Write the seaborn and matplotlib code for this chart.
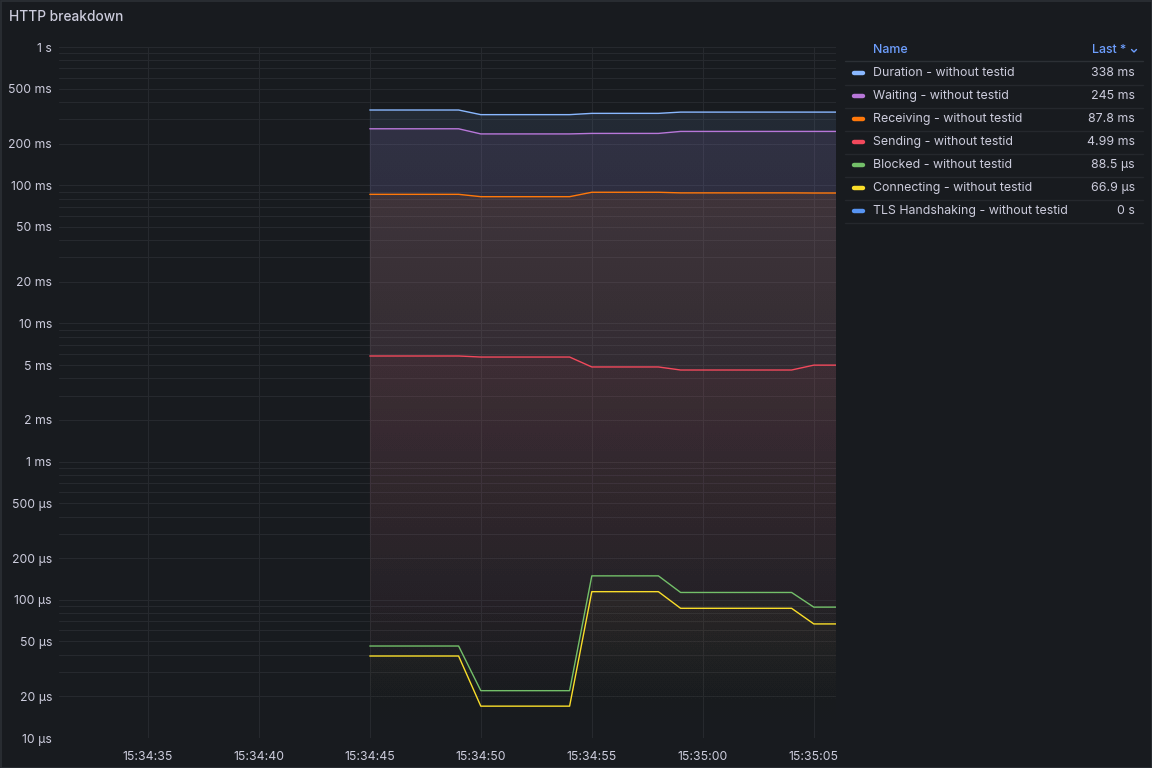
import numpy as np
import pandas as pd
import matplotlib
matplotlib.use("Agg")
import matplotlib.pyplot as plt
import seaborn as sns
import matplotlib.dates as mdates
from matplotlib.colors import to_rgb
from matplotlib.ticker import FixedLocator, FuncFormatter, NullFormatter
from matplotlib.lines import Line2D
from matplotlib.patches import Rectangle

# sample times (change points of the series)
times = ["15:34:45", "15:34:49", "15:34:50", "15:34:54", "15:34:55",
         "15:34:58", "15:34:59", "15:35:04", "15:35:05", "15:35:06"]

# values in seconds
duration = [0.350, 0.350, 0.324, 0.324, 0.331, 0.331, 0.338, 0.338, 0.338, 0.338]
waiting = [0.256, 0.256, 0.235, 0.235, 0.237, 0.237, 0.245, 0.245, 0.245, 0.245]
receiving = [0.0859, 0.0859, 0.0826, 0.0826, 0.0889, 0.0889, 0.0880, 0.0880, 0.0878, 0.0878]
sending = [0.00581, 0.00581, 0.00571, 0.00571, 0.00484, 0.00484, 0.00460, 0.00460, 0.00499, 0.00499]
blocked = [46.3e-6, 46.3e-6, 22.0e-6, 22.0e-6, 149e-6, 149e-6, 113e-6, 113e-6, 88.5e-6, 88.5e-6]
connecting = [39.2e-6, 39.2e-6, 17.0e-6, 17.0e-6, 114.5e-6, 114.5e-6, 86.8e-6, 86.8e-6, 66.9e-6, 66.9e-6]
tls = [0, 0, 0, 0, 0, 0, 0, 0, 0, 0]

names = ["Duration - without testid", "Waiting - without testid", "Receiving - without testid",
         "Sending - without testid", "Blocked - without testid", "Connecting - without testid",
         "TLS Handshaking - without testid"]
series = [duration, waiting, receiving, sending, blocked, connecting, tls]
colors = ["#8ab8ff", "#b877d9", "#ff780a", "#f2495c", "#73bf69", "#fade2a", "#5794f2"]

BG = "#181b1f"
GRID = "#26292e"
TEXT = "#ccccdc"
BLUE = "#6e9fff"


def fmt_dur(v):
    if v == 0:
        return "0 s"
    if v >= 1:
        return f"{v:.3g} s"
    if v >= 1e-3:
        return f"{v * 1e3:.3g} ms"
    return f"{v * 1e6:.3g} µs"


sns.set_theme(style="dark")
plt.rcParams["font.family"] = ["Inter", "DejaVu Sans"]

fig = plt.figure(figsize=(11.52, 7.68), dpi=100, facecolor=BG)
ax = fig.add_axes([59 / 1152, 1 - 738 / 768, (836 - 59) / 1152, (738 - 47) / 768])
ax.set_facecolor(BG)

day = "2024-01-01 "
t = pd.to_datetime([day + s for s in times])
df = pd.DataFrame({"time": np.tile(t, len(names)),
                   "value": np.concatenate(series),
                   "name": np.repeat(names, len(times))})
df = df[df["value"] > 0]

ax.set_yscale("log")
ymin, ymax = 1e-5, 1.0

# gradient fills under each series (opaque at top of the plot, clear at bottom),
# ordered dither so the 8-bit alpha steps do not show as bands
H, W = 691, 777
bayer = np.array([[0, 8, 2, 10], [12, 4, 14, 6], [3, 11, 1, 9], [15, 7, 13, 5]]) / 16 - 0.47
dither = np.tile(bayer, (H // 4 + 1, W // 4 + 1))[:H, :W] / 255
alpha = np.clip(np.linspace(0, 1, H)[:, None] * 0.11 + dither, 0, 1)
for name, c in zip(names, colors):
    d = df[df["name"] == name]
    if d.empty:
        continue
    poly = ax.fill_between(d["time"], d["value"], ymin, color="none", lw=0)
    rgba = np.zeros((H, W, 4))
    rgba[..., :3] = to_rgb(c)
    rgba[..., 3] = alpha
    im = ax.imshow(rgba, extent=[0, 1, 0, 1], transform=ax.transAxes,
                   origin="lower", aspect="auto", zorder=1, interpolation="nearest")
    im.set_clip_path(poly.get_paths()[0], ax.transData)

sns.lineplot(data=df, x="time", y="value", hue="name", hue_order=names,
             palette=dict(zip(names, colors)), linewidth=1.0, ax=ax,
             legend=False, zorder=3, estimator=None)

ax.set_aspect("auto")
ax.set_xlim(pd.Timestamp(day + "15:34:31"), pd.Timestamp(day + "15:35:06"))
ax.set_ylim(ymin, ymax)

# ticks
major = [m * 10.0 ** e for e in range(-5, 1) for m in (1, 2, 5) if m * 10.0 ** e <= 1.0001]
minor = [m * 10.0 ** e for e in range(-5, 0) for m in (3, 4, 6, 7, 8, 9)]
ax.yaxis.set_major_locator(FixedLocator(major))
ax.yaxis.set_minor_locator(FixedLocator(minor))
ax.yaxis.set_major_formatter(FuncFormatter(lambda v, p: fmt_dur(v)))
ax.yaxis.set_minor_formatter(NullFormatter())
ax.xaxis.set_major_locator(mdates.SecondLocator(bysecond=range(0, 60, 5)))
ax.xaxis.set_major_formatter(mdates.DateFormatter("%H:%M:%S"))

ax.grid(True, which="both", color=GRID, linewidth=0.8)
ax.tick_params(axis="both", which="both", length=0, colors=TEXT, labelsize=8.8)
ax.tick_params(axis="y", pad=5)
ax.tick_params(axis="x", pad=9)
for s in ax.spines.values():
    s.set_visible(False)
ax.set_xlabel("")
ax.set_ylabel("")

# panel title and border
fig.text(9 / 1152, 1 - 17 / 768, "HTTP breakdown", color=TEXT, fontsize=9.9,
         fontweight="medium", va="center", ha="left")
fig.patches.append(Rectangle((0.5 / 1152, 0.5 / 768), 1 - 1 / 1152, 1 - 1 / 768,
                             transform=fig.transFigure, fill=False,
                             edgecolor="#2c3035", linewidth=1.2))

# legend table
fx = lambda px: px / 1152
fy = lambda py: 1 - py / 768
fs = 8.9
fig.text(fx(873), fy(50), "Name", color=BLUE, fontsize=fs, fontweight="medium",
         va="center", ha="left")
fig.text(fx(1126), fy(50), "Last *", color=BLUE, fontsize=fs, fontweight="medium",
         va="center", ha="right")
fig.add_artist(Line2D([fx(1131.5), fx(1134), fx(1136.5)], [fy(49.5), fy(52), fy(49.5)],
                      color=BLUE, linewidth=1.0))
fig.add_artist(Line2D([fx(845), fx(1143)], [fy(61), fy(61)], color="#2c3035", linewidth=1.0))
for i, (name, c, vals) in enumerate(zip(names, colors, series)):
    yc = 73 + i * 23
    fig.add_artist(Line2D([fx(854), fx(863)], [fy(yc), fy(yc)], color=c,
                          linewidth=3.2, solid_capstyle="round"))
    fig.text(fx(873), fy(yc), name, color=TEXT, fontsize=fs, va="center", ha="left")
    fig.text(fx(1135), fy(yc), fmt_dur(vals[-1]), color=TEXT, fontsize=fs,
             va="center", ha="right")
    fig.add_artist(Line2D([fx(845), fx(1143)], [fy(yc + 11.5), fy(yc + 11.5)],
                          color="#25282d", linewidth=1.0))

fig.savefig("out.png", dpi=100, facecolor=BG)
